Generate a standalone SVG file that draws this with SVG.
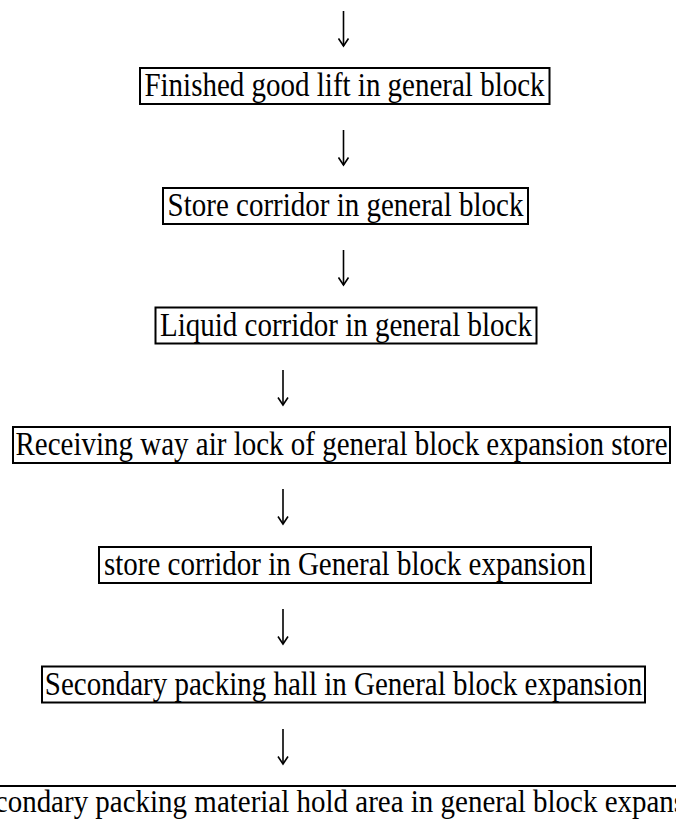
<svg xmlns="http://www.w3.org/2000/svg" width="676" height="820" viewBox="0 0 676 820">
<style>
.box{fill:#fff;stroke:#000;stroke-width:2}
.lbl{font-family:"Liberation Serif","Times New Roman",serif;font-size:29px;fill:#000;text-anchor:middle}
.arr{stroke:#000;stroke-width:1.6;fill:none;marker-end:url(#ah)}
</style>
<defs>
<marker id="ah" markerUnits="userSpaceOnUse" markerWidth="12" markerHeight="12" refX="9" refY="6" orient="auto" viewBox="0 0 12 12">
<path d="M1.5,1 L9,6 L1.5,11" fill="none" stroke="#000" stroke-width="1.6"/>
</marker>
</defs>
<rect width="676" height="820" fill="#fff"/>
<g id="connectors">
<line class="arr" x1="343.5" y1="11" x2="343.5" y2="46"/>
<line class="arr" x1="343.5" y1="130" x2="343.5" y2="165"/>
<line class="arr" x1="343.5" y1="250" x2="343.5" y2="285"/>
<line class="arr" x1="283" y1="370" x2="283" y2="405"/>
<line class="arr" x1="283" y1="489" x2="283" y2="524"/>
<line class="arr" x1="283" y1="609" x2="283" y2="644"/>
<line class="arr" x1="283" y1="729" x2="283" y2="764"/>
</g>
<g id="n1"><rect class="box" x="140" y="68" width="409.5" height="36"/><text class="lbl" transform="translate(344.5,96) scale(1,1.18)">Finished good lift in general block</text></g>
<g id="n2"><rect class="box" x="163" y="188" width="365" height="36"/><text class="lbl" transform="translate(345.5,216) scale(1,1.18)">Store corridor in general block</text></g>
<g id="n3"><rect class="box" x="155.5" y="307.5" width="381" height="36"/><text class="lbl" transform="translate(346,335.5) scale(1,1.18)">Liquid corridor in general block</text></g>
<g id="n4"><rect class="box" x="13" y="427" width="657" height="36"/><text class="lbl" transform="translate(341.5,455) scale(1,1.18)">Receiving way air lock of general block expansion store</text></g>
<g id="n5"><rect class="box" x="99" y="547" width="492" height="36"/><text class="lbl" transform="translate(345,575) scale(1,1.18)">store corridor in General block expansion</text></g>
<g id="n6"><rect class="box" x="42" y="666.5" width="603" height="36"/><text class="lbl" transform="translate(343.5,694.5) scale(1,1.18)">Secondary packing hall in General block expansion</text></g>
<g id="n7"><rect class="box" x="-40" y="786" width="756" height="40"/><text class="lbl" transform="translate(344,812) scale(1,1.12)">Secondary packing material hold area in general block expansion</text></g>
</svg>
